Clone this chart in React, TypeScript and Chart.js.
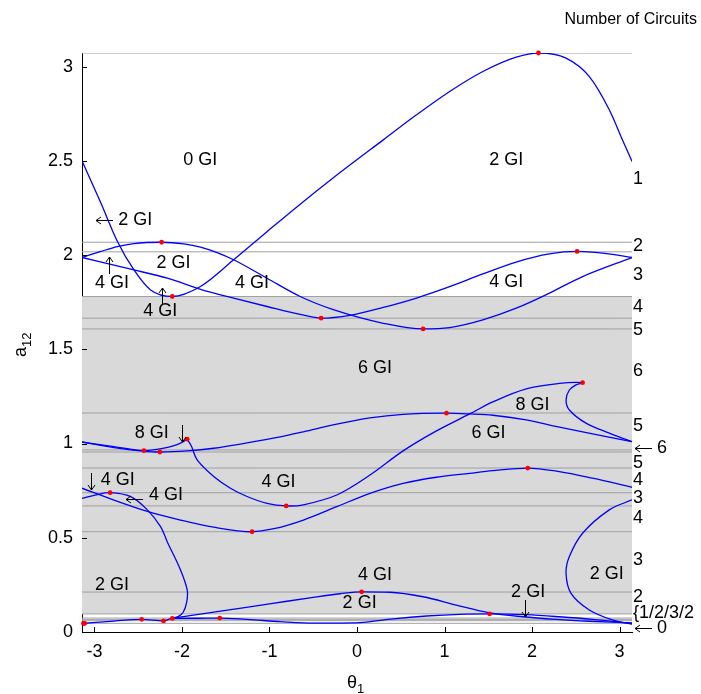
import React, { useEffect, useRef } from 'react';
import { Chart, registerables } from 'chart.js';

Chart.register(...registerables);

const PI = Math.PI;
const FONT = '"Liberation Sans", Arial, sans-serif';

const xTickValues = [-3, -2, -1, 0, 1, 2, 3];
const yTickValues = [0, 0.5, 1, 1.5, 2, 2.5, 3];
const yMax = 3.072;

// critical levels (thin gray horizontal lines)
const levelLines = [3.072, 2.068, 2.017, 1.78, 1.665, 1.608, 1.162, 0.966, 0.955, 0.87, 0.739, 0.669, 0.532, 0.212, 0.096, 0.074, 0.067, 0.06, 0.046];
const shadedTop = 1.78;
const shadedBottom = 0.096;

// blue curves (theta1, a12) - x-monotone branches
const curveA = [
  [-3.142, 2.5], [-2.927, 2.277], [-2.737, 2.072], [-2.548, 1.921], [-2.358, 1.815], [-2.11, 1.78],
  [-1.788, 1.833], [-1.409, 1.975], [-1.028, 2.124], [-0.649, 2.27], [-0.27, 2.41], [0.3, 2.611],
  [0.68, 2.744], [1.059, 2.868], [1.438, 2.974], [1.819, 3.05], [2.073, 3.072],
  [2.388, 3.045], [2.654, 2.947], [2.882, 2.771], [3.033, 2.611], [3.142, 2.496],
];
const curveB = [
  [-3.142, 1.987], [-2.927, 2.019], [-2.737, 2.045], [-2.548, 2.061], [-2.232, 2.068], [-1.978, 2.059],
  [-1.788, 2.042], [-1.598, 2.013], [-1.409, 1.975], [-1.028, 1.877], [-0.649, 1.78], [-0.27, 1.71],
  [0.3, 1.638], [0.755, 1.608], [1.059, 1.615], [1.438, 1.656], [1.819, 1.718],
  [2.198, 1.798], [2.577, 1.886], [3.142, 1.987],
];
const curveC = [
  [-3.142, 1.987], [-2.548, 1.921], [-2.167, 1.877], [-1.788, 1.818], [-1.409, 1.771], [-1.028, 1.727],
  [-0.649, 1.685], [-0.41, 1.665], [-0.08, 1.68], [0.3, 1.722], [0.68, 1.772], [1.059, 1.832],
  [1.438, 1.9], [1.819, 1.963], [2.198, 2.006], [2.514, 2.019], [2.805, 2.01], [3.142, 1.987],
];
const curveD1 = [
  [-3.142, 1.008], [-2.776, 0.984], [-2.434, 0.962], [-2.206, 0.975], [-2.016, 1.002], [-1.94, 1.023],
];
const curveD2 = [
  [-3.142, 1.008], [-2.776, 0.978], [-2.452, 0.96], [-2.252, 0.955], [-1.94, 0.961], [-1.637, 0.975],
  [-1.256, 1.003], [-0.877, 1.035], [-0.612, 1.062], [-0.231, 1.103], [0.148, 1.136], [0.527, 1.155],
  [1.022, 1.161], [1.287, 1.157], [1.552, 1.15], [1.933, 1.125], [2.312, 1.087], [2.691, 1.051], [3.142, 1.01],
];
const curveE1 = [
  [-3.142, 0.763], [-2.776, 0.7], [-2.395, 0.64], [-2.016, 0.594], [-1.637, 0.556], [-1.199, 0.532],
  [-0.95, 0.548], [-0.612, 0.594], [-0.231, 0.665], [0.148, 0.736], [0.527, 0.789], [0.908, 0.821],
  [1.287, 0.842], [1.552, 0.856], [1.951, 0.87], [2.312, 0.851], [2.691, 0.816], [3.142, 0.768],
];
const curveE2b = [
  [-2.11, 0.073], [-1.5, 0.115], [-1.0, 0.149], [-0.5, 0.184], [-0.194, 0.203], [0.053, 0.213],
  [0.376, 0.211], [0.755, 0.187], [1.135, 0.143], [1.515, 0.102], [1.894, 0.081], [2.274, 0.067],
  [2.654, 0.057], [3.142, 0.048],
];
const curveF = [
  [-3.142, 0.045], [-2.776, 0.058], [-2.46, 0.067], [-2.21, 0.059], [-2.11, 0.072], [-1.826, 0.073],
  [-1.568, 0.074], [-1.256, 0.067], [-0.877, 0.055], [-0.497, 0.047], [0.034, 0.05], [0.413, 0.07],
  [0.794, 0.085], [1.173, 0.094], [1.515, 0.096], [1.933, 0.092], [2.312, 0.081], [2.691, 0.067], [3.142, 0.045],
];
// folded branches (not x-monotone)
const curveG = [
  [-1.94, 1.023], [-1.89, 0.984], [-1.826, 0.913], [-1.637, 0.825], [-1.446, 0.763], [-1.256, 0.719],
  [-1.028, 0.682], [-0.809, 0.669], [-0.612, 0.675], [-0.231, 0.727], [0.148, 0.833], [0.527, 0.961],
  [0.908, 1.067], [1.287, 1.157], [1.552, 1.221], [1.933, 1.29], [2.312, 1.319], [2.577, 1.323],
  [2.502, 1.311], [2.426, 1.284], [2.388, 1.231], [2.426, 1.178], [2.616, 1.108], [2.882, 1.055], [3.142, 1.01],
];
const curveE2a = [
  [-3.142, 0.709], [-2.98, 0.728], [-2.82, 0.739], [-2.585, 0.718], [-2.395, 0.648], [-2.244, 0.559],
  [-2.167, 0.478], [-2.016, 0.329], [-1.94, 0.223], [-1.945, 0.16], [-1.985, 0.105], [-2.04, 0.083], [-2.11, 0.073],
];
const curveR = [
  [3.142, 0.701], [2.882, 0.648], [2.577, 0.524], [2.426, 0.4], [2.388, 0.312], [2.445, 0.205],
  [2.654, 0.117], [2.919, 0.064], [3.142, 0.042],
];
const monotoneCurves = [curveA, curveB, curveC, curveD1, curveD2, curveE1, curveE2b, curveF];
const foldedCurves = [curveG, curveE2a, curveR];

// red critical points
const redDots = [
  [2.073, 3.072], [-2.232, 2.068], [2.514, 2.019], [-2.11, 1.78], [-0.41, 1.665], [0.755, 1.608],
  [2.577, 1.323], [1.022, 1.161], [-1.94, 1.023], [-2.434, 0.962], [-2.252, 0.955], [1.951, 0.87],
  [-2.82, 0.739], [-0.809, 0.669], [-1.199, 0.532], [0.053, 0.213], [1.515, 0.096], [-3.11, 0.046],
  [-3.125, 0.045], [-2.46, 0.067], [-2.21, 0.059], [-2.11, 0.072], [-1.568, 0.074],
];

// region annotations (text, theta1, a12)
const annotations: [string, number, number][] = [
  ['0 GI', -1.792, 2.505], ['2 GI', 1.705, 2.505],
  ['2 GI', -2.534, 2.187],
  ['2 GI', -2.096, 1.957], ['4 GI', -2.798, 1.851],
  ['4 GI', -1.199, 1.851], ['4 GI', 1.705, 1.856],
  ['4 GI', -2.247, 1.704],
  ['6 GI', 0.205, 1.4], ['8 GI', 2.005, 1.205], ['6 GI', 1.501, 1.055],
  ['8 GI', -2.344, 1.055],
  ['4 GI', -0.898, 0.798], ['4 GI', -2.733, 0.807],
  ['4 GI', -2.181, 0.727],
  ['2 GI', -2.798, 0.249], ['4 GI', 0.205, 0.303], ['2 GI', 0.03, 0.152],
  ['2 GI', 1.955, 0.214], ['2 GI', 2.853, 0.308],
];
// pointer arrows (direction, theta1, a12 at arrow centre)
const arrows: [string, number, number][] = [
  ['←', -2.889, 2.187], ['↑', -2.832, 1.948], ['↑', -2.224, 1.781], ['↓', -1.997, 1.055],
  ['↓', -3.041, 0.801], ['←', -2.548, 0.706], ['↓', 1.921, 0.126],
];

// number of circuits per band (right margin)
const circuitLabels = ['1', '2', '3', '4', '5', '6', '5', '← 6', '5', '4', '3', '4', '3', '2', '{1/2/3/2', '← 0'];
const circuitLabelLevels = [2.403, 2.05, 1.895, 1.725, 1.603, 1.382, 1.093, 0.975, 0.895, 0.807, 0.71, 0.604, 0.382, 0.187, 0.103, 0.023];

const toPts = (arr: number[][]) => arr.map(([x, y]) => ({ x, y }));

function drawArrow(ctx: CanvasRenderingContext2D, dir: string, cx: number, cy: number) {
  const L = 8.5;
  const h = 5;
  const w = 3.5;
  ctx.beginPath();
  if (dir === '←') {
    ctx.moveTo(cx + L, cy); ctx.lineTo(cx - L, cy);
    ctx.moveTo(cx - L + h, cy - w); ctx.lineTo(cx - L, cy); ctx.lineTo(cx - L + h, cy + w);
  } else if (dir === '↑') {
    ctx.moveTo(cx, cy + L); ctx.lineTo(cx, cy - L);
    ctx.moveTo(cx - w, cy - L + h); ctx.lineTo(cx, cy - L); ctx.lineTo(cx + w, cy - L + h);
  } else {
    ctx.moveTo(cx, cy - L); ctx.lineTo(cx, cy + L);
    ctx.moveTo(cx - w, cy + L - h); ctx.lineTo(cx, cy + L); ctx.lineTo(cx + w, cy + L - h);
  }
  ctx.stroke();
}

const overlayPlugin = {
  id: 'overlay',
  afterDraw(chart: any) {
    const { ctx, chartArea, scales } = chart;
    const xs = scales.x;
    const ys = scales.y;
    ctx.save();
    // inward tick marks
    ctx.strokeStyle = '#000';
    ctx.lineWidth = 1;
    ctx.beginPath();
    xTickValues.forEach((v) => {
      const px = Math.round(xs.getPixelForValue(v)) + 0.5;
      ctx.moveTo(px, chartArea.bottom);
      ctx.lineTo(px, chartArea.bottom - 5);
    });
    yTickValues.forEach((v) => {
      const py = Math.round(ys.getPixelForValue(v)) + 0.5;
      ctx.moveTo(chartArea.left, py);
      ctx.lineTo(chartArea.left + 5, py);
    });
    ctx.stroke();

    ctx.fillStyle = '#000';
    ctx.textBaseline = 'middle';
    ctx.textAlign = 'center';
    ctx.font = `18px ${FONT}`;
    annotations.forEach(([t, x, y]) => {
      ctx.fillText(t, xs.getPixelForValue(x), ys.getPixelForValue(y));
    });
    arrows.forEach(([d, x, y]) => {
      drawArrow(ctx, d, Math.round(xs.getPixelForValue(x)) + 0.5, Math.round(ys.getPixelForValue(y)) + 0.5);
    });

    ctx.textAlign = 'left';
    circuitLabels.forEach((t, i) => {
      const py = ys.getPixelForValue(circuitLabelLevels[i]);
      if (t.startsWith('← ')) {
        drawArrow(ctx, '←', chartArea.right + 11.5, Math.round(py) + 0.5);
        ctx.fillText(t.slice(2), chartArea.right + 25, py);
      } else {
        ctx.fillText(t, chartArea.right + 1, py);
      }
    });

    ctx.textAlign = 'right';
    ctx.font = `16px ${FONT}`;
    ctx.fillText('Number of Circuits', 697, 20);

    // x-axis title theta_1
    ctx.textBaseline = 'alphabetic';
    ctx.textAlign = 'left';
    ctx.font = `18px ${FONT}`;
    const thW = ctx.measureText('θ').width;
    const thX = 347;
    ctx.fillText('θ', thX, 688);
    ctx.font = `13px ${FONT}`;
    ctx.fillText('1', thX + thW, 693);

    // y-axis title a_12
    ctx.translate(26, 357);
    ctx.rotate(-Math.PI / 2);
    ctx.font = `18px ${FONT}`;
    const aW = ctx.measureText('a').width;
    ctx.fillText('a', 0, 0);
    ctx.font = `13px ${FONT}`;
    ctx.fillText('12', aW, 5);
    ctx.restore();
  },
};

export default function App() {
  const ref = useRef<HTMLCanvasElement>(null);
  useEffect(() => {
    const datasets: any[] = [];
    datasets.push({
      data: toPts([[-PI, shadedTop], [PI, shadedTop]]),
      showLine: true,
      borderWidth: 0,
      pointRadius: 0,
      backgroundColor: '#d9d9d9',
      fill: { value: shadedBottom },
      order: 10,
    });
    levelLines.forEach((lv) => {
      datasets.push({
        data: toPts([[-PI, lv], [PI, lv]]),
        showLine: true,
        borderColor: '#a0a0a0',
        borderWidth: 1,
        pointRadius: 0,
        fill: false,
        order: 5,
      });
    });
    monotoneCurves.forEach((c) => {
      datasets.push({
        data: toPts(c),
        showLine: true,
        borderColor: '#0000ff',
        borderWidth: 1.3,
        pointRadius: 0,
        cubicInterpolationMode: 'monotone',
        fill: false,
        order: 2,
      });
    });
    foldedCurves.forEach((c) => {
      datasets.push({
        data: toPts(c),
        showLine: true,
        borderColor: '#0000ff',
        borderWidth: 1.3,
        pointRadius: 0,
        tension: 0.35,
        fill: false,
        order: 2,
      });
    });
    datasets.push({
      data: toPts(redDots),
      showLine: false,
      pointRadius: 2.4,
      pointBackgroundColor: '#ff0000',
      pointBorderWidth: 0,
      clip: false,
      order: 0,
    });

    const chart = new Chart(ref.current as HTMLCanvasElement, {
      type: 'scatter',
      data: { datasets },
      options: {
        responsive: false,
        animation: false,
        devicePixelRatio: 1,
        layout: { padding: { top: 53, right: 69, left: 0, bottom: 0 } },
        plugins: { legend: { display: false }, tooltip: { enabled: false } },
        scales: {
          x: {
            type: 'linear',
            min: -PI,
            max: PI,
            afterBuildTicks: (s: any) => { s.ticks = xTickValues.map((v) => ({ value: v })); },
            afterFit: (s: any) => { s.height = 62; },
            ticks: {
              callback: (v: any) => String(v),
              font: { family: FONT, size: 18 },
              color: '#000',
              padding: 9,
              maxRotation: 0,
              autoSkip: false,
            },
            grid: { display: false, drawTicks: false },
            border: { display: true, color: '#000', width: 1 },
          },
          y: {
            type: 'linear',
            min: 0,
            max: yMax,
            afterBuildTicks: (s: any) => { s.ticks = yTickValues.map((v) => ({ value: v })); },
            afterFit: (s: any) => { s.width = 82; },
            ticks: {
              callback: (v: any) => String(v),
              font: { family: FONT, size: 18 },
              color: '#000',
              padding: 9,
              autoSkip: false,
            },
            grid: { display: false, drawTicks: false },
            border: { display: true, color: '#000', width: 1 },
          },
        },
      },
      plugins: [overlayPlugin],
    } as any);
    return () => chart.destroy();
  }, []);
  return (
    <div style={{ position: 'fixed', left: 0, top: 0, width: 701, height: 694, background: '#fff' }}>
      <canvas ref={ref} width={701} height={694} style={{ display: 'block' }} />
    </div>
  );
}
